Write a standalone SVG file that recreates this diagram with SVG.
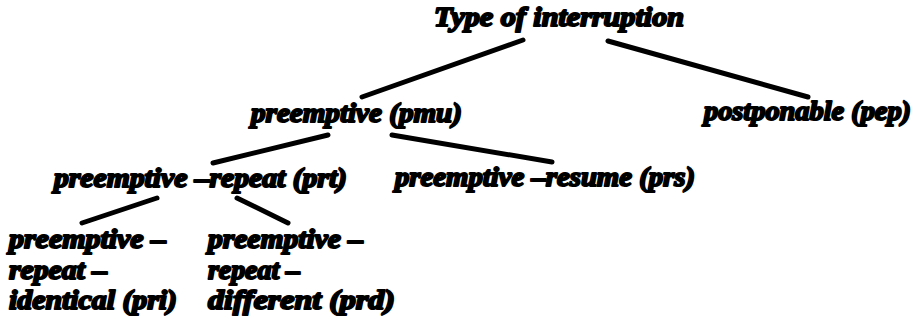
<svg xmlns="http://www.w3.org/2000/svg" width="915" height="321" viewBox="0 0 915 321">
<style>
.t{font-family:"Liberation Serif","Times New Roman",serif;font-weight:bold;font-style:italic;font-size:27px;fill:#000;stroke:#000;stroke-width:2px;stroke-linejoin:round}
.c{stroke:#000;stroke-width:5;stroke-linecap:round;fill:none}
</style>
<rect width="915" height="321" fill="#fff"/>
<g id="connectors">
<line class="c" x1="523" y1="40" x2="362" y2="97"/>
<line class="c" x1="608" y1="41" x2="808" y2="97"/>
<line class="c" x1="328" y1="135" x2="213" y2="163"/>
<line class="c" x1="392" y1="135" x2="552" y2="162"/>
<line class="c" x1="157" y1="198" x2="82" y2="223"/>
<line class="c" x1="237" y1="198" x2="288" y2="223"/>
</g>
<g id="root"><text class="t" x="434" y="26" textLength="250" lengthAdjust="spacingAndGlyphs">Type of interruption</text></g>
<g id="pmu"><text class="t" x="251" y="122" textLength="211" lengthAdjust="spacingAndGlyphs">preemptive (pmu)</text></g>
<g id="pep"><text class="t" x="704" y="120" textLength="207" lengthAdjust="spacingAndGlyphs">postponable (pep)</text></g>
<g id="prt"><text class="t" x="54" y="187" textLength="293" lengthAdjust="spacingAndGlyphs">preemptive –repeat (prt)</text></g>
<g id="prs"><text class="t" x="395" y="186" textLength="300" lengthAdjust="spacingAndGlyphs">preemptive –resume (prs)</text></g>
<g id="pri">
<text class="t" x="9" y="248" textLength="157" lengthAdjust="spacingAndGlyphs">preemptive –</text>
<text class="t" x="9" y="279" textLength="98" lengthAdjust="spacingAndGlyphs">repeat –</text>
<text class="t" x="9" y="309" textLength="168" lengthAdjust="spacingAndGlyphs">identical (pri)</text>
</g>
<g id="prd">
<text class="t" x="208" y="248" textLength="155" lengthAdjust="spacingAndGlyphs">preemptive –</text>
<text class="t" x="208" y="279" textLength="92" lengthAdjust="spacingAndGlyphs">repeat –</text>
<text class="t" x="208" y="309" textLength="187" lengthAdjust="spacingAndGlyphs">different (prd)</text>
</g>
</svg>
